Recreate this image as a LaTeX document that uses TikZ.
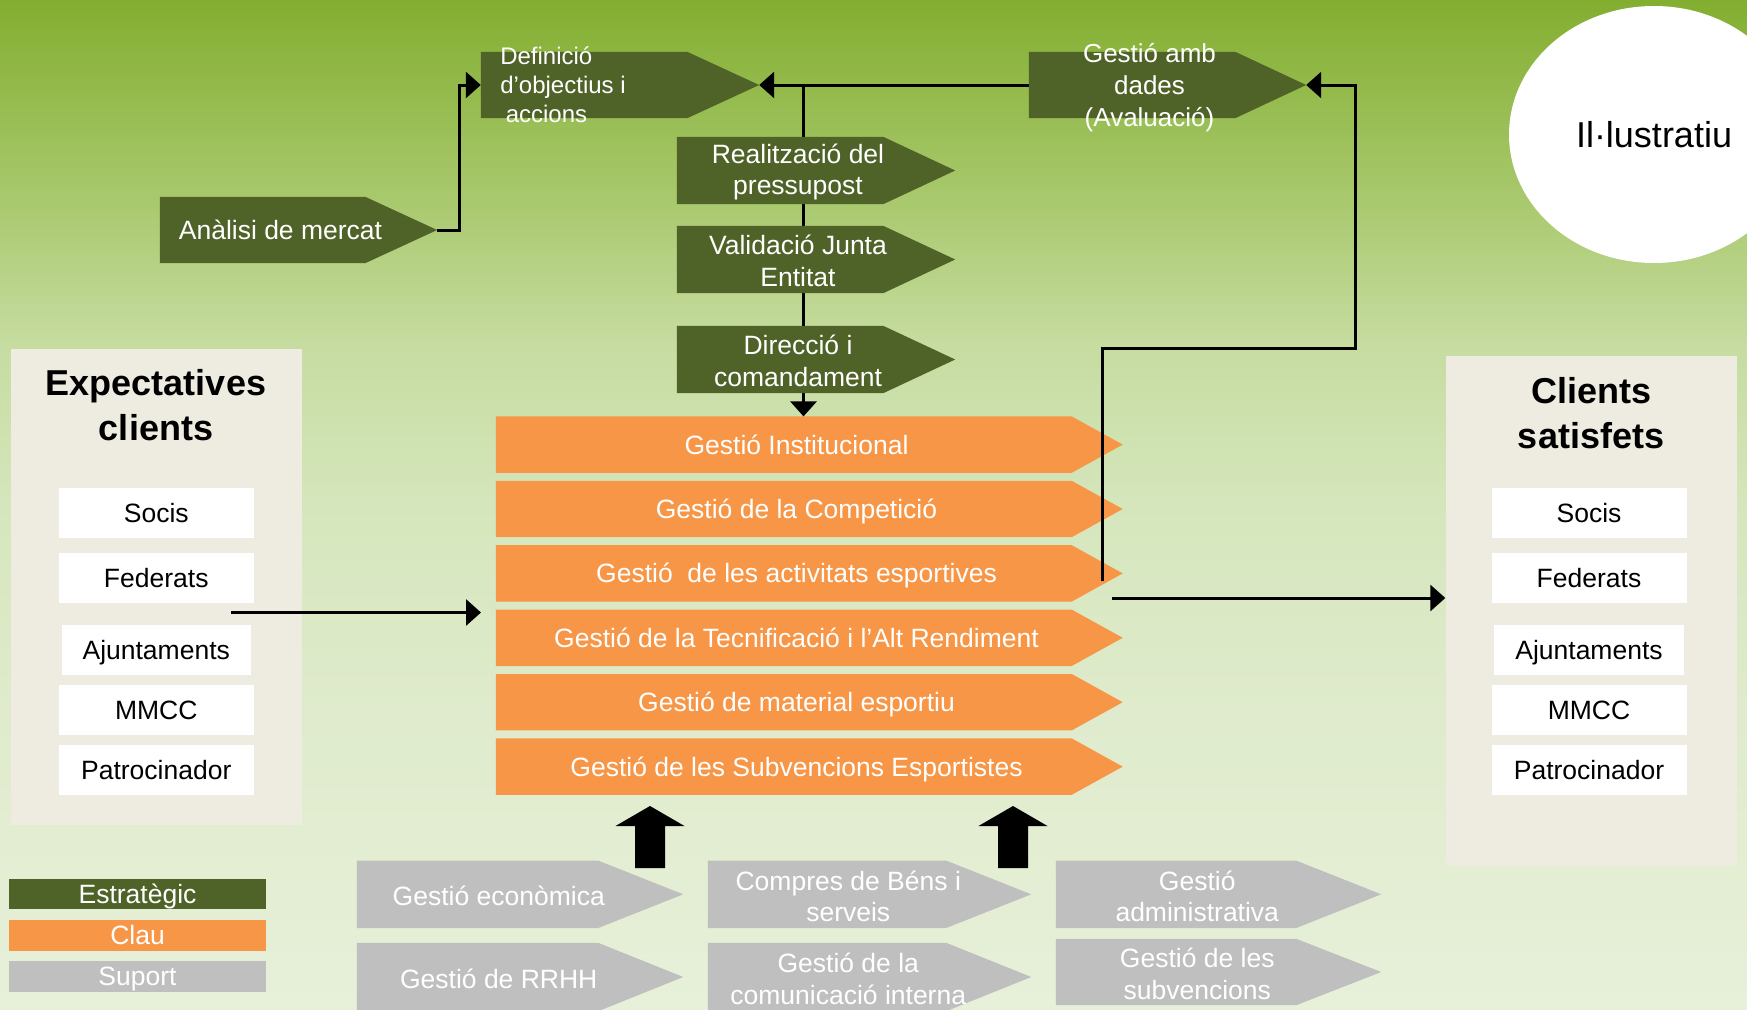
\documentclass[tikz,border=0pt]{standalone}
\usepackage{fontspec}
\setmainfont{Liberation Sans}
\usetikzlibrary{arrows.meta, shapes.geometric}

\definecolor{strat}{HTML}{4F6228}
\definecolor{clau}{HTML}{F79646}
\definecolor{suport}{HTML}{BFBFBF}
\definecolor{panel}{HTML}{EEECE1}
\definecolor{bga}{HTML}{E7F0D9}
\definecolor{bgb}{HTML}{DFEBCC}
\definecolor{bgc}{HTML}{D5E6BC}
\definecolor{bgd}{HTML}{C6DCA0}
\definecolor{bge}{HTML}{A9C96E}
\definecolor{bgf}{HTML}{83AE30}
\pgfdeclareverticalshading{fons}{100bp}{color(0bp)=(bga); color(25bp)=(bga); color(40bp)=(bgb); color(50bp)=(bgc); color(58bp)=(bgd); color(65bp)=(bge); color(75bp)=(bgf); color(100bp)=(bgf)}

\begin{document}
\begin{tikzpicture}[x=1pt, y=-1pt,
    bbox/.style={rectangle, inner sep=0pt},
    wtxt/.style={text=white, align=center, inner sep=0pt, font=\fontsize{26.5}{31.5}\selectfont},
    btxt/.style={text=black, align=center, inner sep=0pt, font=\fontsize{26.5}{31.5}\selectfont},
    oneline/.style={text height=19pt, text depth=0pt},
    wbox/.style={btxt, oneline, fill=white, minimum height=50},
    panelbox/.style={rectangle, fill=panel, minimum width=291},
    title/.style={text=black, align=center, inner sep=0pt, font=\fontsize{36}{45}\selectfont\bfseries},
    legbox/.style={wtxt, oneline, minimum width=257, minimum height=30.5},
    conn/.style={line width=3pt, -{Triangle[length=15pt, width=26pt]}}]

\useasboundingbox (0,0) rectangle (1747,1009);
\clip (0,0) rectangle (1747,1009);
\shade[shading=fons] (0,0) rectangle (1747,1009);

\node[ellipse, fill=white, minimum width=290, minimum height=257, inner sep=0pt, font=\fontsize{36}{43}\selectfont] (illu) at (1654,134.5) {Il·lustratiu};

% clients
\node[panelbox, minimum height=476] (expc) at (156,587) {};
\node[panelbox, minimum height=509.5] (sati) at (1591,610.75) {};
\node[title] (expc-t) at (156,405.5) {Expectatives\\clients};
\node[title] (sati-t) at (1591,413) {Clients\\satisfets};
\foreach \i/\y/\w/\txt in {1/513/195/Socis, 2/578/195/Federats, 3/650/189.5/Ajuntaments, 4/710/195/MMCC, 5/770/195/Patrocinador} {
  \node[wbox, minimum width=\w] (expc\i) at (156.25,\y) {\txt};
  \node[wbox, minimum width=\w] (sati\i) at (1589,\y) {\txt};
}

% processos
\node[bbox, minimum width=277, minimum height=66] (anal) at (298.5,230) {};
\node[bbox, minimum width=278, minimum height=66] (defi) at (620,85) {};
\node[bbox, minimum width=278, minimum height=67] (real) at (816,170.5) {};
\node[bbox, minimum width=278, minimum height=67] (vali) at (816,259.5) {};
\node[bbox, minimum width=278, minimum height=67] (dire) at (816,359.5) {};
\node[bbox, minimum width=277, minimum height=66] (aval) at (1167.5,85) {};
\foreach \i in {1,...,6}
  \node[bbox, minimum width=626.5, minimum height=56] (clau\i) at (809.25,{380.2+64.4*\i}) {};

\foreach \i/\txt in {1/Gestió Institucional, 2/Gestió de la Competició, 3/Gestió\ \ de les activitats esportives, 4/Gestió de la Tecnificació i l’Alt Rendiment, 5/Gestió de material esportiu, 6/Gestió de les Subvencions Esportistes} {
  \fill[clau] (clau\i.north west) -- ([xshift=-51]clau\i.north east) -- (clau\i.east) -- ([xshift=-51]clau\i.south east) -- (clau\i.south west) -- cycle;
  \node[wtxt, oneline] (clau\i-t) at ([xshift=-12.75]clau\i.center) {\txt};
}

% fletxes
\coordinate (split) at (803.5,85);
\coordinate (inflow) at (231,612.5);
\coordinate (inend) at (481,612.5);
\coordinate (outflow) at (1112,598);
\draw[conn] (anal.east) -- ++(22,0) |- (defi.west);
\draw[conn] (aval.west) -- (defi.east);
\draw[conn] (split) -- (split |- clau1.north);
\draw[conn] ([shift={(-20,7.5)}]clau3.east) -- ++(0,-232.5) -| ([xshift=49]aval.east) -- (aval.east);
\draw[conn] (inflow) -- (inend);
\draw[conn] (outflow) -- (outflow -| sati.west);

\foreach \n/\t in {anal/72, defi/72, real/72, vali/72, dire/72, aval/71}
  \fill[strat] (\n.north west) -- ([xshift=-\t]\n.north east) -- (\n.east) -- ([xshift=-\t]\n.south east) -- (\n.south west) -- cycle;
\node[wtxt, oneline] (anal-t) at ([xshift=-18]anal.center) {Anàlisi de mercat};
\node[wtxt, align=left, font=\fontsize{24}{29}\selectfont] (defi-t) at ([xshift=-57]defi.center) {Definició\\d’objectius i\\\hspace*{5.5pt}accions};
\node[wtxt] (real-t) at ([shift={(-18,1.5)}]real.center) {Realització del\\pressupost};
\node[wtxt] (vali-t) at ([shift={(-18,1.5)}]vali.center) {Validació Junta\\Entitat};
\node[wtxt] (dire-t) at ([shift={(-18,1.5)}]dire.center) {Direcció i\\comandament};
\node[wtxt, font=\fontsize{26}{32}\selectfont] (aval-t) at ([shift={(-18,3)}]aval.center) {Gestió amb\\dades\\(Avaluació)};

% suport
\node[bbox, minimum width=326, minimum height=67] (supp1) at (520,894.3) {};
\node[bbox, minimum width=323, minimum height=67] (supp2) at (869.5,894.3) {};
\node[bbox, minimum width=325, minimum height=67] (supp3) at (1218.5,894.3) {};
\node[bbox, minimum width=326, minimum height=68] (supp4) at (520,977) {};
\node[bbox, minimum width=323, minimum height=68] (supp5) at (869.5,977) {};
\node[bbox, minimum width=325, minimum height=66] (supp6) at (1218.5,972) {};
\foreach \i/\txt in {1/Gestió econòmica, 2/Compres de Béns i\\serveis, 3/Gestió\\administrativa, 4/Gestió de RRHH, 5/Gestió de la\\comunicació interna, 6/Gestió de les\\subvencions} {
  \fill[suport] (supp\i.north west) -- ([xshift=-85]supp\i.north east) -- (supp\i.east) -- ([xshift=-85]supp\i.south east) -- (supp\i.south west) -- cycle;
  \node[wtxt] (supp\i-t) at ([shift={(-21.25,2)}]supp\i.center) {\txt};
}
\coordinate (up1) at (650,868);
\coordinate (up2) at (1013,868);
\foreach \c in {up1, up2}
  \fill[black] ([xshift=-15]\c) -- ++(30,0) -- ++(0,-42) -- ++(19.5,0) -- ++(-34.5,-20) -- ++(-34.5,20) -- ++(19.5,0) -- cycle;

% llegenda
\node[legbox, fill=strat] (leg1) at (137.5,894) {Estratègic};
\node[legbox, fill=clau] (leg2) at (137.5,935.3) {Clau};
\node[legbox, fill=suport] (leg3) at (137.5,976.3) {Suport};
\end{tikzpicture}
\end{document}
